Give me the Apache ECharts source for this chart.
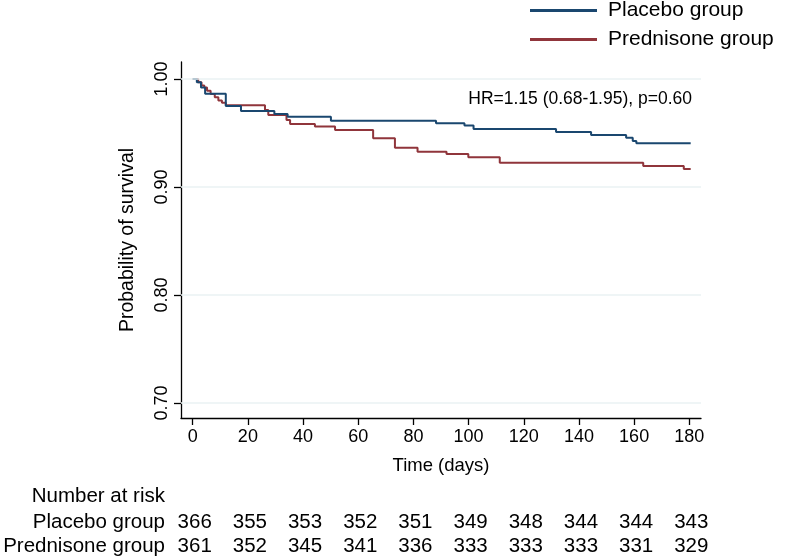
<!DOCTYPE html>
<html>
<head>
<meta charset="utf-8">
<script src="https://cdn.jsdelivr.net/npm/echarts@6/dist/echarts.min.js"></script>
<style>
html,body{margin:0;padding:0;background:#ffffff;}
#chart{width:787px;height:556px;}
</style>
</head>
<body>
<div id="chart"></div>
<script>
// ---- data ----
const groupNames = ['Placebo group', 'Prednisone group'];
const placeboDays = [0, 1.5, 3.0, 4.5, 12.0, 17.5, 29.6, 34.4, 50.1, 88.2, 98.5, 101.8, 131.7, 144.4, 157.1, 159.5, 160.8, 180.5];
const placeboSurv = [1.000, 0.997, 0.992, 0.9864, 0.975, 0.9703, 0.9676, 0.965, 0.9614, 0.959, 0.9568, 0.9537, 0.951, 0.948, 0.9455, 0.9425, 0.9404, 0.9404];
const predDays = [0, 2.0, 3.2, 4.2, 5.2, 6.5, 8.0, 9.3, 10.6, 12.0, 26.2, 27.4, 34.0, 35.3, 44.3, 51.6, 65.4, 73.3, 81.5, 92.0, 99.9, 111.3, 163.3, 178.0, 180.5];
const predSurv = [1.000, 0.997, 0.994, 0.992, 0.989, 0.986, 0.983, 0.980, 0.978, 0.9756, 0.9713, 0.9667, 0.962, 0.9583, 0.9559, 0.9528, 0.9451, 0.9364, 0.9327, 0.9306, 0.9275, 0.9225, 0.9194, 0.9167, 0.9167];
const xTicks = [0, 20, 40, 60, 80, 100, 120, 140, 160, 180];
const yTicks = [0.70, 0.80, 0.90, 1.00];
const riskTimes = [0, 20, 40, 60, 80, 100, 120, 140, 160, 180];
const placeboRisk = [366, 355, 353, 352, 351, 349, 348, 344, 344, 343];
const predRisk = [361, 352, 345, 341, 336, 333, 333, 333, 331, 329];
const riskTitle = 'Number at risk';
const hrText = 'HR=1.15 (0.68-1.95), p=0.60';
const xTitle = 'Time (days)';
const yTitle = 'Probability of survival';

// ---- styles ----
const FONT = '"Liberation Sans", Arial, Helvetica, sans-serif';
const BLUE = '#1a476f';
const RED = '#90353b';
const GRID = '#eaf2f3';

const chart = echarts.init(document.getElementById('chart'), null, {renderer: 'canvas'});

function zip(a, b) { return a.map((v, i) => [v, b[i]]); }

const option = {
  animation: false,
  backgroundColor: '#ffffff',
  textStyle: {fontFamily: FONT, color: '#000'},
  grid: {left: 181, right: 86, top: 62, bottom: 138, containLabel: false},
  legend: {
    orient: 'vertical', left: 530, top: 0, padding: 0,
    itemWidth: 67, itemHeight: 3, itemGap: 8, icon: 'rect',
    textStyle: {fontSize: 21, color: '#000', fontFamily: FONT, padding: [0, 0, 0, 6]},
    data: groupNames
  },
  xAxis: {
    type: 'value', min: -4.24, max: 184.24,
    name: xTitle, nameLocation: 'middle', nameGap: 38,
    nameTextStyle: {fontSize: 18.5, color: '#000', fontFamily: FONT},
    axisLine: {show: true, onZero: false, lineStyle: {color: '#000', width: 1.3}},
    axisTick: {show: true, customValues: xTicks, length: 7, lineStyle: {color: '#000', width: 1.3}},
    axisLabel: {customValues: xTicks, fontSize: 18, color: '#000', margin: 10, fontFamily: FONT},
    splitLine: {show: false}
  },
  yAxis: {
    type: 'value', min: 0.6861, max: 1.0157,
    name: yTitle, nameLocation: 'middle', nameGap: 43, nameRotate: 90,
    nameTextStyle: {fontSize: 19.5, color: '#000', fontFamily: FONT},
    axisLine: {show: true, onZero: false, lineStyle: {color: '#000', width: 1.3}},
    axisTick: {show: true, customValues: yTicks, length: 7, lineStyle: {color: '#000', width: 1.3}},
    axisLabel: {customValues: yTicks, fontSize: 18, color: '#000', margin: 10, rotate: 90, fontFamily: FONT,
      formatter: v => v.toFixed(2)},
    splitLine: {show: false}
  },
  series: [
    {
      type: 'line', name: '_grid', data: [], z: 1, silent: true,
      markLine: {
        silent: true, symbol: 'none', label: {show: false},
        lineStyle: {color: GRID, width: 1.5, type: 'solid'},
        data: yTicks.map(v => ({yAxis: v}))
      }
    },
    {
      type: 'line', name: groupNames[0], data: zip(placeboDays, placeboSurv),
      step: 'end', symbol: 'none', z: 3,
      lineStyle: {color: BLUE, width: 2}, itemStyle: {color: BLUE}
    },
    {
      type: 'line', name: groupNames[1], data: zip(predDays, predSurv),
      step: 'end', symbol: 'none', z: 2,
      lineStyle: {color: RED, width: 2}, itemStyle: {color: RED}
    }
  ]
};
chart.setOption(option);

// risk table + annotation placed with the chart's own x scale
const graphics = [];
graphics.push({type: 'text', right: 787 - 692, top: 90,
  style: {text: hrText, fontSize: 17.5, fontFamily: FONT, fill: '#000', textAlign: 'right'}});
graphics.push({type: 'text', x: 165, y: 496,
  style: {text: riskTitle, fontSize: 20.5, fontFamily: FONT, fill: '#000', textAlign: 'right', textVerticalAlign: 'middle'}});
const rows = [[groupNames[0], placeboRisk, 522], [groupNames[1], predRisk, 546]];
rows.forEach(([label, vals, y]) => {
  graphics.push({type: 'text', x: 165, y: y,
    style: {text: label, fontSize: 20.5, fontFamily: FONT, fill: '#000', textAlign: 'right', textVerticalAlign: 'middle'}});
  vals.forEach((n, i) => {
    const px = chart.convertToPixel({xAxisIndex: 0}, riskTimes[i]);
    graphics.push({type: 'text', x: px + 2, y: y,
      style: {text: String(n), fontSize: 20.5, fontFamily: FONT, fill: '#000', textAlign: 'center', textVerticalAlign: 'middle'}});
  });
});
chart.setOption({graphic: graphics});
</script>
</body>
</html>
